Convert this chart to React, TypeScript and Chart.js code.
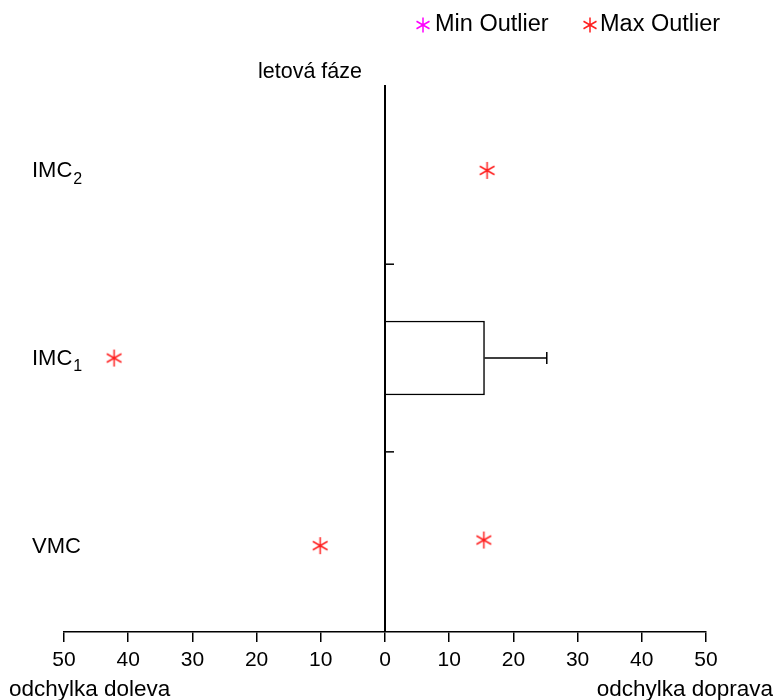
import React, { useEffect, useRef } from 'react';
import { Chart, registerables } from 'chart.js';

Chart.register(...registerables);

// ---- data ----
const categoryNames = ['VMC', 'IMC', 'IMC'];
const categorySubs = ['', '1', '2'];
const categoryPositions = [1, 2, 3];
const boxValues: (number | null)[] = [null, 15.5, null];
const whiskerValues: (number | null)[] = [null, 25.2, null];
const minOutlierValues: number[] = [];
const minOutlierPositions: number[] = [];
const maxOutlierValues = [-10.1, 15.4, -42.2, 15.9];
const maxOutlierPositions = [1, 1.03, 2, 3];
const xTickValues = [-50, -40, -30, -20, -10, 0, 10, 20, 30, 40, 50];
const axisTitle = 'letová fáze';
const leftLabel = 'odchylka doleva';
const rightLabel = 'odchylka doprava';
const legendLabels = ['Min Outlier', 'Max Outlier'];

const FONT = '"Liberation Sans", Arial, sans-serif';
const MIN_COLOR = '#ff00ff';
const MAX_COLOR = '#ff2020';

function drawStar(g: CanvasRenderingContext2D, cx: number, cy: number, r: number, color: string, lw = 1.5) {
  g.save();
  g.strokeStyle = color;
  g.lineWidth = lw;
  g.beginPath();
  for (let k = 0; k < 3; k++) {
    const a = Math.PI / 2 + (k * Math.PI) / 3;
    const dx = Math.cos(a) * r;
    const dy = Math.sin(a) * r;
    g.moveTo(cx - dx, cy - dy);
    g.lineTo(cx + dx, cy + dy);
  }
  g.stroke();
  g.restore();
}

function makeStar(color: string, r = 8.5) {
  const c = document.createElement('canvas');
  const s = Math.ceil(2 * r + 4);
  c.width = s;
  c.height = s;
  const g = c.getContext('2d')!;
  drawStar(g, s / 2, s / 2, r, color);
  return c;
}

const decoPlugin = {
  id: 'deco',
  afterDatasetsDraw(chart: any) {
    const { ctx, scales, chartArea } = chart;
    const x = scales.x;
    const y = scales.y;
    ctx.save();
    ctx.strokeStyle = '#000';
    ctx.lineWidth = 1.5;
    // whiskers
    categoryPositions.forEach((p, i) => {
      const b = boxValues[i];
      const w = whiskerValues[i];
      if (b == null || w == null) return;
      const yp = y.getPixelForValue(p);
      const x0 = x.getPixelForValue(b);
      const x1 = x.getPixelForValue(w);
      ctx.beginPath();
      ctx.moveTo(x0, yp);
      ctx.lineTo(x1, yp);
      ctx.moveTo(x1, yp - 6);
      ctx.lineTo(x1, yp + 6);
      ctx.stroke();
    });
    // zero line
    const zx = x.getPixelForValue(0);
    ctx.lineWidth = 2;
    ctx.beginPath();
    ctx.moveTo(zx, chartArea.top);
    ctx.lineTo(zx, chartArea.bottom);
    ctx.stroke();
    // category separators
    ctx.lineWidth = 1.5;
    for (let i = 0; i < categoryPositions.length - 1; i++) {
      const yp = y.getPixelForValue((categoryPositions[i] + categoryPositions[i + 1]) / 2);
      ctx.beginPath();
      ctx.moveTo(zx, yp);
      ctx.lineTo(zx + 9, yp);
      ctx.stroke();
    }
    ctx.restore();
  },
  afterDraw(chart: any) {
    const { ctx, scales, width } = chart;
    const x = scales.x;
    const y = scales.y;
    ctx.save();
    ctx.fillStyle = '#000';
    ctx.textBaseline = 'middle';
    // category labels
    categoryPositions.forEach((p, i) => {
      const yp = y.getPixelForValue(p);
      ctx.font = `22px ${FONT}`;
      ctx.textAlign = 'left';
      ctx.fillText(categoryNames[i], 32, yp + 1);
      const w = ctx.measureText(categoryNames[i]).width;
      if (categorySubs[i]) {
        ctx.font = `16px ${FONT}`;
        ctx.fillText(categorySubs[i], 32 + w + 1, yp + 9);
      }
    });
    // axis title
    ctx.font = `21.5px ${FONT}`;
    ctx.textAlign = 'right';
    ctx.fillText(axisTitle, x.getPixelForValue(0) - 23, 72);
    // bottom labels
    ctx.font = `22.5px ${FONT}`;
    ctx.textAlign = 'left';
    ctx.fillText(leftLabel, 9, 690);
    ctx.textAlign = 'right';
    ctx.fillText(rightLabel, width - 1, 690);
    // legend
    ctx.font = `23.5px ${FONT}`;
    ctx.textAlign = 'left';
    drawStar(ctx, 423, 25, 7.5, MIN_COLOR);
    ctx.fillText(legendLabels[0], 435, 25);
    drawStar(ctx, 590, 25, 7.5, MAX_COLOR);
    ctx.fillText(legendLabels[1], 600, 25);
    ctx.restore();
  },
};

export default function App() {
  const ref = useRef<HTMLCanvasElement>(null);
  useEffect(() => {
    const barData = categoryPositions
      .map((p, i) => (boxValues[i] == null ? null : { x: boxValues[i] as number, y: p }))
      .filter((d) => d !== null);
    const minData = minOutlierValues.map((v, i) => ({ x: v, y: minOutlierPositions[i] }));
    const maxData = maxOutlierValues.map((v, i) => ({ x: v, y: maxOutlierPositions[i] }));
    const chart = new Chart(ref.current!, {
      type: 'bar',
      data: {
        datasets: [
          {
            type: 'bar',
            indexAxis: 'y',
            label: 'box',
            data: barData as any,
            backgroundColor: '#ffffff',
            borderColor: '#000000',
            borderWidth: 1.5,
            barThickness: 74,
          } as any,
          {
            type: 'scatter',
            label: legendLabels[0],
            data: minData,
            pointStyle: makeStar(MIN_COLOR),
            pointRadius: 8,
          } as any,
          {
            type: 'scatter',
            label: legendLabels[1],
            data: maxData,
            pointStyle: makeStar(MAX_COLOR),
            pointRadius: 8,
          } as any,
        ],
      },
      options: {
        indexAxis: 'y',
        animation: false,
        responsive: true,
        maintainAspectRatio: false,
        layout: { padding: { top: 85, left: 64, right: 68, bottom: 0 } },
        plugins: { legend: { display: false }, tooltip: { enabled: false } },
        scales: {
          x: {
            type: 'linear',
            min: -50,
            max: 50,
            offset: false,
            afterBuildTicks: (s: any) => {
              s.ticks = xTickValues.map((v) => ({ value: v }));
            },
            afterFit: (s: any) => {
              s.height = 68;
            },
            ticks: {
              callback: (v: any) => String(Math.abs(Number(v))),
              font: { family: FONT, size: 21 },
              color: '#000',
              padding: 6,
              maxRotation: 0,
              autoSkip: false,
            },
            grid: { drawOnChartArea: false, drawTicks: true, tickLength: 10, color: '#000', lineWidth: 1.5, offset: false },
            border: { display: true, color: '#000', width: 1.5 },
          },
          y: {
            type: 'linear',
            min: 0.54,
            max: 3.455,
            offset: false,
            display: false,
          },
        },
      } as any,
      plugins: [decoPlugin],
    });
    return () => chart.destroy();
  }, []);
  return (
    <div style={{ position: 'absolute', left: 0, top: 0, width: 774, height: 700, background: '#fff' }}>
      <canvas ref={ref} />
    </div>
  );
}
